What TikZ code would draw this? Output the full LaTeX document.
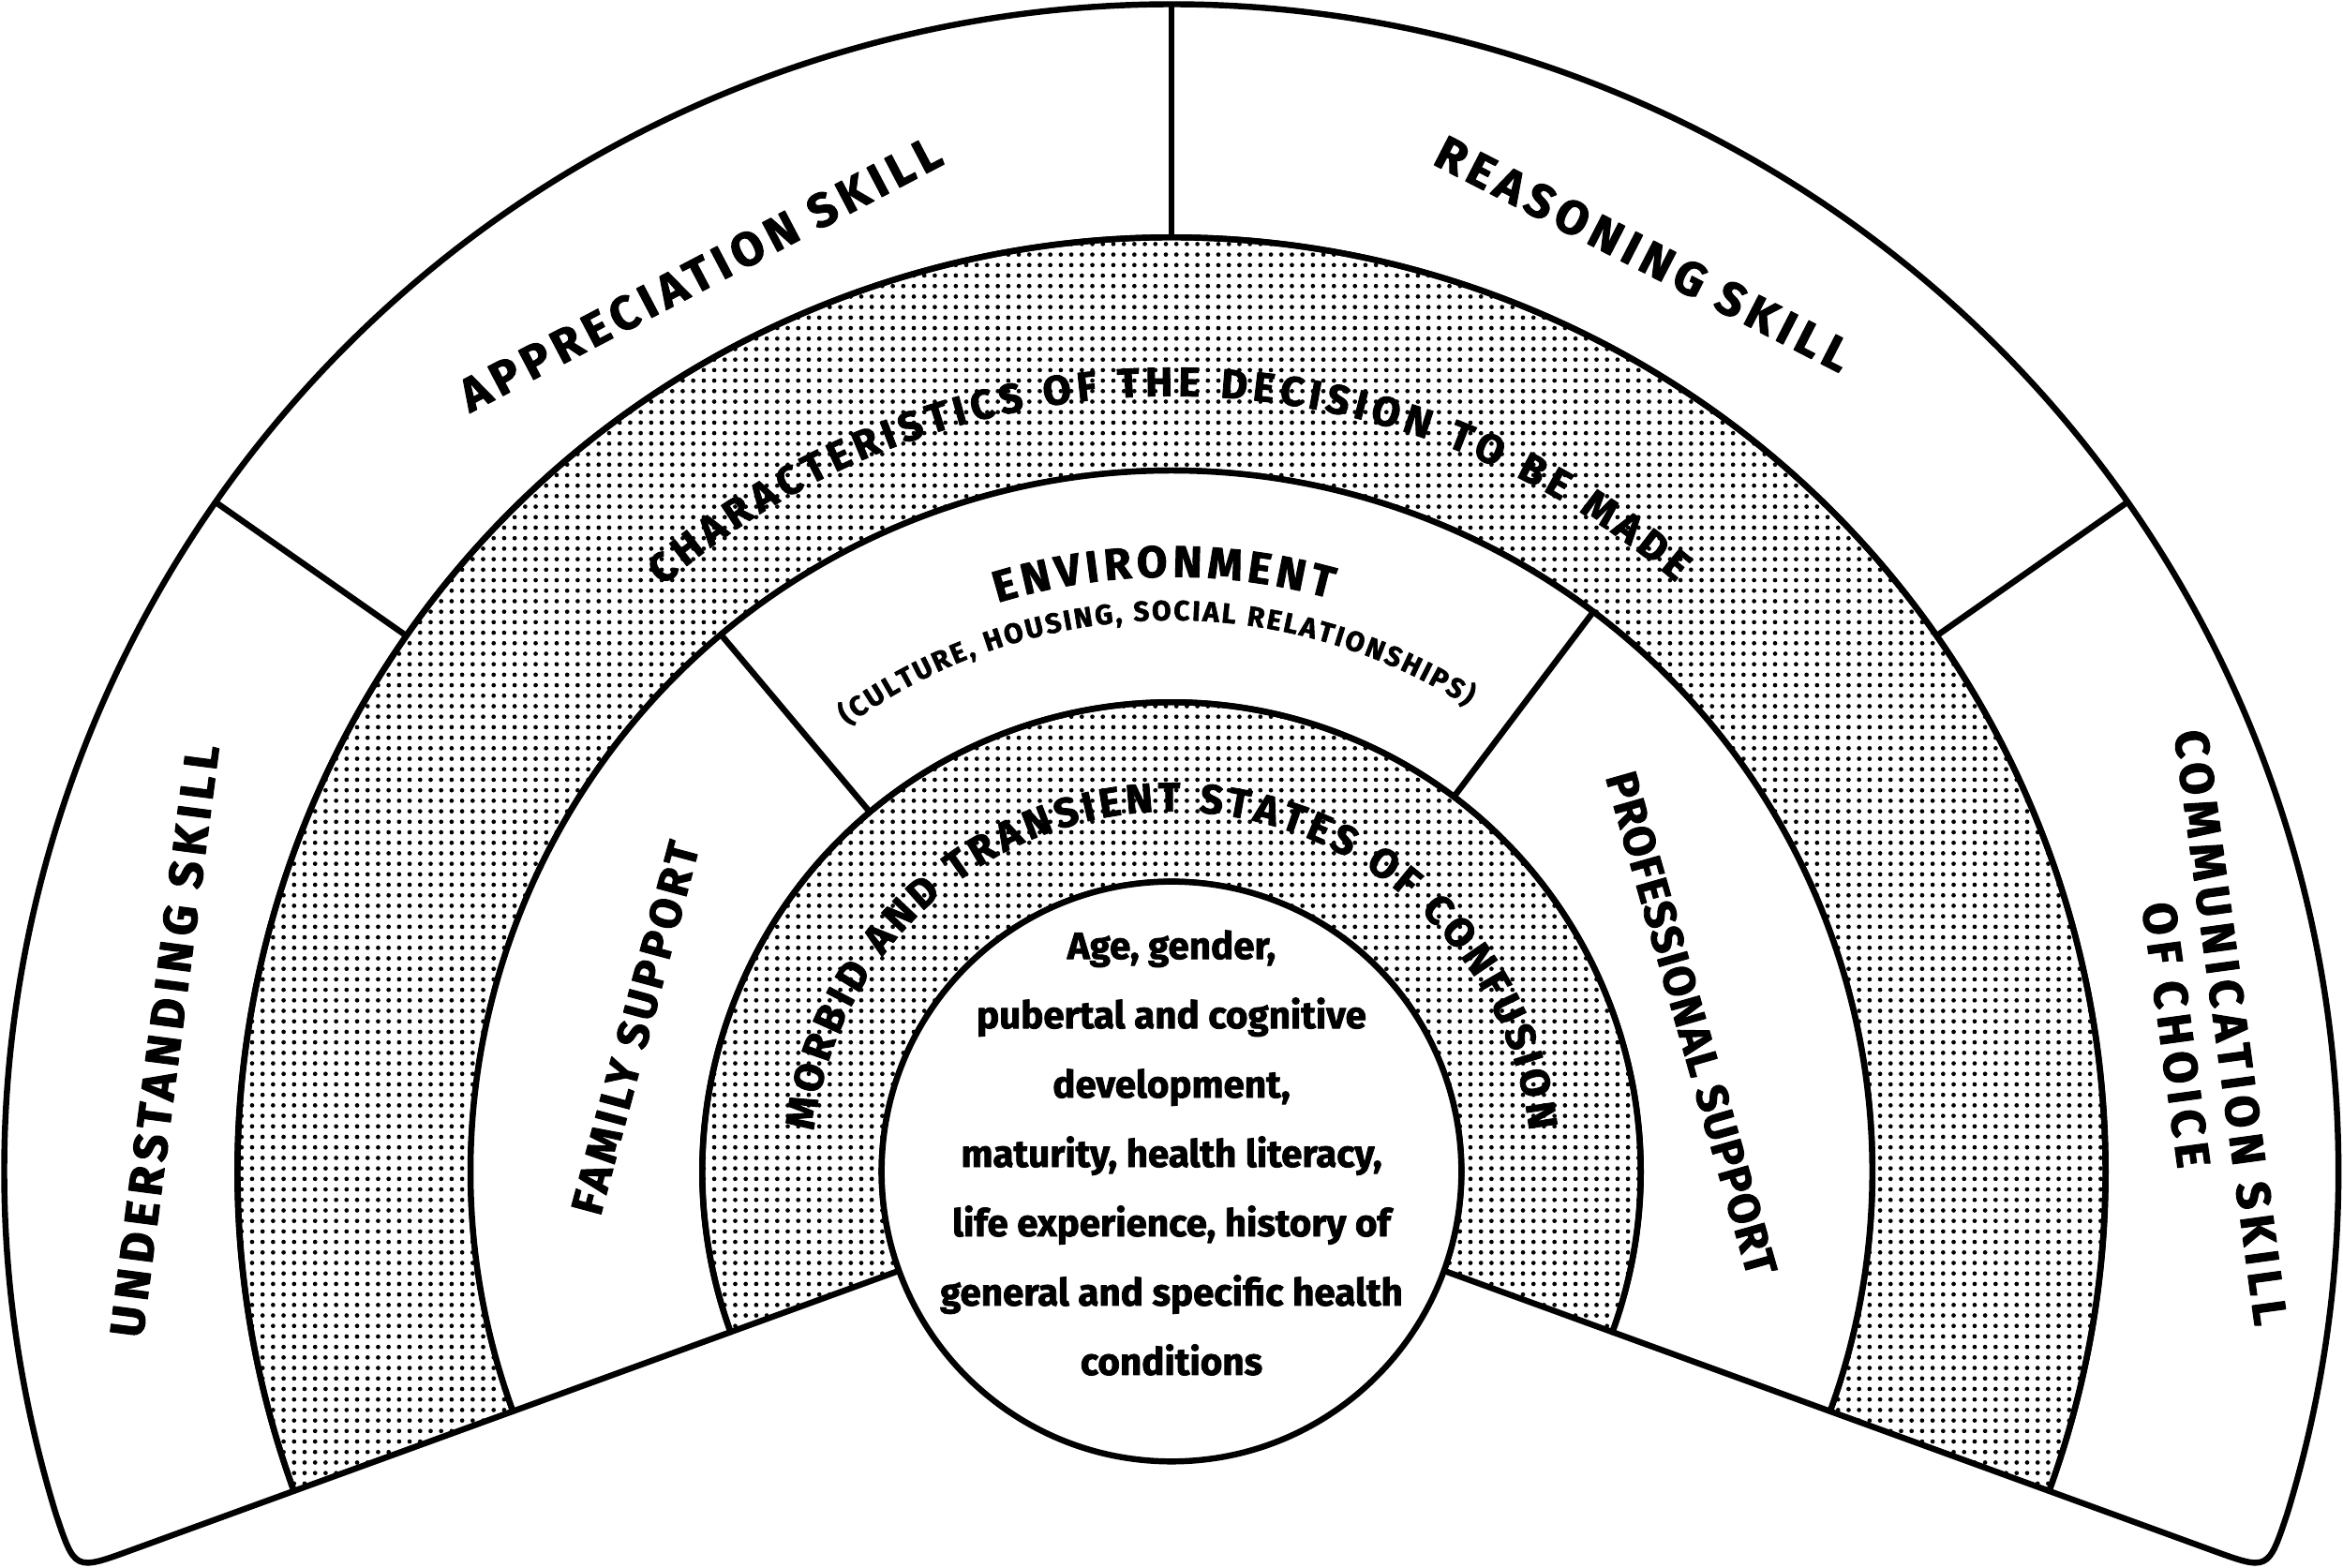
\documentclass[tikz,border=0pt]{standalone}
\usepackage{fontspec}
\setmainfont{Fira Sans}
\newfontfamily\hvfam{Fira Sans}[BoldFeatures={FakeBold=2}]
\newcommand\hv{\hvfam\bfseries}
\usetikzlibrary{decorations.text,patterns}

\pgfdeclarepatternformonly{finedots}{\pgfqpoint{-1pt}{-1pt}}{\pgfqpoint{1pt}{1pt}}{\pgfqpoint{2pt}{2pt}}{%
  \pgfpathcircle{\pgfqpoint{0pt}{0pt}}{0.42pt}\pgfusepath{fill}}

\begin{document}
\begin{tikzpicture}[x=0.1mm,y=0.1mm, line join=round,
  band/.style={draw=black, line width=1.15pt, fill=white},
  dotband/.style={draw=black, line width=1.15pt, pattern=finedots},
  divider/.style={draw=black, line width=1.15pt},
  skill/.style={inner sep=0pt, font=\hv\fontsize{9}{10.5}\selectfont\addfontfeature{LetterSpace=13}},
  support/.style={inner sep=0pt, font=\hv\fontsize{8.4}{10}\selectfont\addfontfeature{LetterSpace=#1}},
  core/.style={inner sep=0pt, align=center, font=\hv\fontsize{7.2}{13.2}\selectfont},
]
\useasboundingbox (0,0) rectangle (1568,1049);
\fill[white] (0,0) rectangle (1568,1049);
\begin{scope}[shift={(784,265)}]
  % outer band: skills
  \path[band] (200:625) -- (200:741) .. controls (200:781) .. (197.07:781)
     arc[start angle=197.07, end angle=-17.07, radius=781]
     .. controls (-20:781) .. (-20:741) -- (-20:625)
     arc[start angle=-20, end angle=200, radius=625] -- cycle;
  % characteristics band
  \path[dotband] (200:625) arc[start angle=200, end angle=-20, radius=625]
     -- (-20:469) arc[start angle=-20, end angle=200, radius=469] -- cycle;
  % environment band
  \path[band] (200:469) arc[start angle=200, end angle=-20, radius=469]
     -- (-20:314) arc[start angle=-20, end angle=200, radius=314] -- cycle;
  % confusion band
  \path[dotband] (200:314) arc[start angle=200, end angle=-20, radius=314]
     -- (-20:194) arc[start angle=-20, end angle=200, radius=194] -- cycle;
  % dividers
  \draw[divider] (145:625) -- (145:781);
  \draw[divider] (90:625) -- (90:781);
  \draw[divider] (35:625) -- (35:781);
  \draw[divider] (130:314) -- (130:469);
  \draw[divider] (53:314) -- (53:469);
  % core circle
  \draw[line width=1.15pt, fill=white] (0,0) circle[radius=194];
  \node[core] (core) at (0,12.5) {Age, gender,\\pubertal and cognitive\\development,\\maturity, health literacy,\\life experience, history of\\general and specific health\\conditions};

  % straight labels
  \node[skill, rotate=82.6] (understanding) at (172.6:679.6) {UNDERSTANDING SKILL};
  \node[skill, rotate=27.7] (appreciation) at (117.7:678.6) {APPRECIATION SKILL};
  \node[skill, rotate=-27.2] (reasoning) at (62.8:690.5) {REASONING SKILL};
  \node[skill, rotate=-82.25, align=center] (communication) at (7.75:697) {COMMUNICATION SKILL\\OF CHOICE};
  \node[support=9, rotate=75] (family) at (165:371.6) {FAMILY SUPPORT};
  \node[support=3, rotate=-74.1] (professional) at (15.9:361.8) {PROFESSIONAL SUPPORT};

  % curved labels
  \path[decorate, decoration={text along path, text align={fit to path},
     text={|\hv\fontsize{7.8}{9}\selectfont|CHARACTERISTICS OF THE DECISION TO BE MADE}}]
     (131:519) arc[start angle=131, end angle=49.5, radius=519];
  \path[decorate, decoration={text along path, text align={fit to path},
     text={|\hv\fontsize{8.4}{9}\selectfont|ENVIRONMENT}}]
     (107:398) arc[start angle=107, end angle=74.5, radius=398];
  \path[decorate, decoration={text along path, text align={fit to path},
     text={|\hv\fontsize{5.3}{6}\selectfont|(CULTURE, HOUSING, SOCIAL RELATIONSHIPS)}}]
     (126:369) arc[start angle=126, end angle=57.5, radius=369];
  \path[decorate, decoration={text along path, text align={fit to path},
     text={|\hv\fontsize{7.8}{9}\selectfont|MORBID AND TRANSIENT STATES OF CONFUSION}}]
     (173.5:241) arc[start angle=173.5, end angle=6.5, radius=241];
\end{scope}
\end{tikzpicture}
\end{document}
